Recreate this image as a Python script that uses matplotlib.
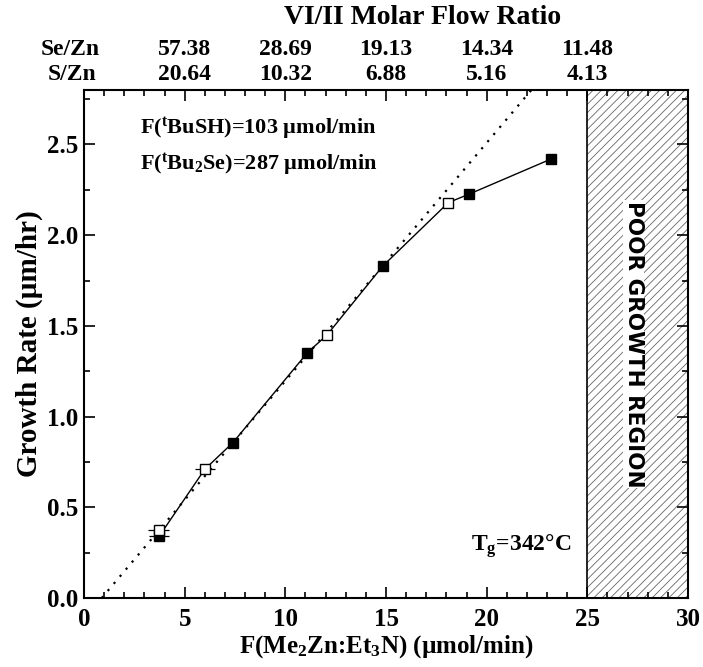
import matplotlib.pyplot as plt
import numpy as np
from matplotlib.patches import Rectangle
from matplotlib.ticker import MultipleLocator, FormatStrFormatter

plt.rcParams["font.family"] = ["Liberation Serif", "DejaVu Serif"]
plt.rcParams["font.weight"] = "bold"
plt.rcParams["mathtext.fontset"] = "custom"
plt.rcParams["mathtext.rm"] = "Liberation Serif:bold"
plt.rcParams["mathtext.it"] = "Liberation Serif:bold"
plt.rcParams["mathtext.bf"] = "Liberation Serif:bold"
plt.rcParams["hatch.linewidth"] = 0.6

# growth data, Zn precursor flow (umol/min) vs growth rate (um/hr)
filled_flow = [3.73, 7.4, 11.1, 14.84, 19.1, 23.2]
filled_rate = [0.34, 0.857, 1.353, 1.83, 2.225, 2.42]
open_flow = [3.7, 6.0, 12.07, 18.1]
open_rate = [0.374, 0.71, 1.45, 2.18]
open_xerr = [0.5, 0.5, 0.0, 0.0]

# VI/II ratio labels placed above the matching Zn flows
ratio_flow = [5, 10, 15, 20, 25]
se_zn = ["57.38", "28.69", "19.13", "14.34", "11.48"]
s_zn = ["20.64", "10.32", "6.88", "5.16", "4.13"]

poor_start, poor_end = 25, 30

fig = plt.figure(figsize=(7.03, 6.67), dpi=100)
ax = fig.add_axes([0.1195, 0.1034, 0.8592, 0.7616])

# solid line joining every point in flow order
all_flow = np.array(filled_flow + open_flow)
all_rate = np.array(filled_rate + open_rate)
order = np.argsort(all_flow)
line_flow = all_flow[order][1:]
line_rate = all_rate[order][1:]
ax.plot(line_flow, line_rate, color="black", lw=1.0, zorder=2)

# linear fit of the low-flow points, drawn dotted
lin = all_flow <= 15
slope, icpt = np.polyfit(all_flow[lin], all_rate[lin], 1)
fx = np.array([-icpt / slope, 30])
ax.plot(fx, slope * fx + icpt, color="black", lw=1.6, ls=(0, (1, 3.2)), zorder=1)

ax.errorbar(open_flow[:2], open_rate[:2], xerr=open_xerr[:2], fmt="none",
            ecolor="black", elinewidth=0.9, capsize=0, zorder=3)
ax.errorbar(filled_flow[:1], filled_rate[:1], xerr=[0.5], fmt="none",
            ecolor="black", elinewidth=0.9, capsize=0, zorder=3)
ax.plot(filled_flow, filled_rate, "s", color="black", ms=7.5, zorder=4)
ax.plot(open_flow, open_rate, "s", mfc="white", mec="black", mew=1.0,
        ms=7.5, zorder=5)

# poor growth region
ax.add_patch(Rectangle((poor_start, 0), poor_end - poor_start, 3,
                       facecolor="white", edgecolor="#666666", hatch="////",
                       lw=0, zorder=0))
ax.axvline(poor_start, color="black", lw=1.2, zorder=0.5)
ax.text(27.3, 1.4, "POOR GROWTH REGION", rotation=-90, ha="center",
        va="center", fontsize=15.5, fontweight="bold",
        family=["DejaVu Sans"],
        bbox=dict(facecolor="white", edgecolor="none", pad=0.5), zorder=6)

ax.text(2.8, 2.56, r"F($^{\rm t}$BuSH)=103 µmol/min", fontsize=16,
        fontweight="bold")
ax.text(2.8, 2.36, r"F($^{\rm t}$Bu$_{\rm 2}$Se)=287 µmol/min", fontsize=16,
        fontweight="bold")
ax.text(19.2, 0.26, r"T$_{\rm g}$=342°C", fontsize=17, fontweight="bold")

ax.set_xlim(0, 30)
ax.set_ylim(0, 2.8)
ax.xaxis.set_major_locator(MultipleLocator(5))
ax.xaxis.set_minor_locator(MultipleLocator(1))
ax.yaxis.set_major_locator(MultipleLocator(0.5))
ax.yaxis.set_minor_locator(MultipleLocator(0.25))
ax.yaxis.set_major_formatter(FormatStrFormatter("%.1f"))
ax.tick_params(which="both", direction="in", top=True, right=True,
               width=1.2, labelsize=18)
ax.tick_params(which="major", length=8)
ax.tick_params(axis="x", which="major", pad=7)
ax.tick_params(axis="y", which="major", pad=4)
ax.tick_params(which="minor", length=4)
for lab in ax.get_xticklabels() + ax.get_yticklabels():
    lab.set_fontweight("bold")
for sp in ax.spines.values():
    sp.set_linewidth(1.5)

ax.set_xlabel(r"F(Me$_{\rm 2}$Zn:Et$_{\rm 3}$N) (µmol/min)", fontsize=18,
              fontweight="bold", labelpad=2)
ax.set_ylabel("Growth Rate (µm/hr)", fontsize=21, fontweight="bold",
              labelpad=3)

# top scale: VI/II molar flow ratios
trans = ax.get_xaxis_transform()
for fl, se, s in zip(ratio_flow, se_zn, s_zn):
    ax.text(fl, 1.079, se, transform=trans, ha="center", va="center",
            fontsize=17, fontweight="bold")
    ax.text(fl, 1.03, s, transform=trans, ha="center", va="center",
            fontsize=17, fontweight="bold")
ax.text(-0.7, 1.079, "Se/Zn", transform=trans, ha="center", va="center",
        fontsize=17, fontweight="bold")
ax.text(-0.6, 1.03, "S/Zn", transform=trans, ha="center", va="center",
        fontsize=17, fontweight="bold")
ax.text(16.8, 1.142, "VI/II Molar Flow Ratio", transform=trans, ha="center",
        va="center", fontsize=20, fontweight="bold")

fig.savefig("out.png", dpi=100)
